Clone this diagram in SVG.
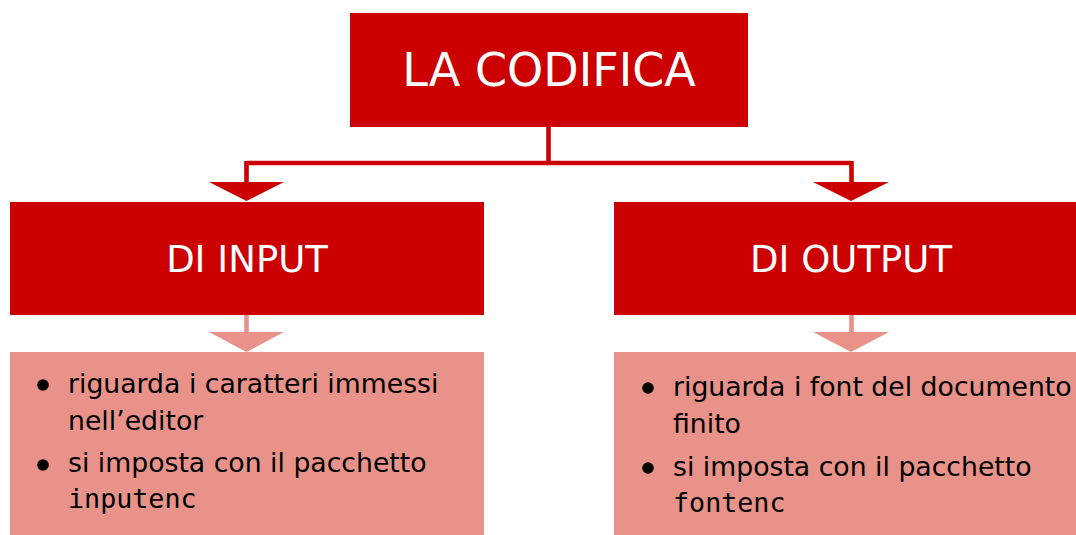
<svg xmlns="http://www.w3.org/2000/svg" width="1076" height="535" viewBox="0 0 1076 535">
<style>
.dark{fill:#cc0000}
.light{fill:#e9928a}
.head{font-family:"DejaVu Sans",sans-serif;fill:#ffffff;text-anchor:middle}
.body{font-family:"DejaVu Sans",sans-serif;font-size:26.7px;fill:#000000}
.mono{font-family:"DejaVu Sans Mono",monospace;font-size:26.7px;fill:#000000}
.ln{stroke:#cc0000;stroke-width:4.6;fill:none}
.lnl{stroke:#e9928a;stroke-width:4.6;fill:none}
</style>
<rect width="1076" height="535" fill="#ffffff"/>
<g id="connectors">
  <path class="ln" d="M548.5,127 V163 M246.5,163 H851.5 M246.5,161 V183 M851.5,161 V183"/>
  <polygon class="dark" points="209,182 284,182 246.5,201"/>
  <polygon class="dark" points="813,182 889,182 851,201"/>
  <path class="lnl" d="M246.5,315 V333 M851.5,315 V333"/>
  <polygon class="light" points="209,332 284,332 246.5,352"/>
  <polygon class="light" points="813,332 889,332 851,352"/>
</g>
<g id="node-codifica">
  <rect class="dark" x="350" y="13" width="398" height="114"/>
  <text class="head" x="549" y="86" font-size="46">LA CODIFICA</text>
</g>
<g id="node-input">
  <rect class="dark" x="10" y="202" width="474" height="113"/>
  <text class="head" x="247" y="272" font-size="37">DI INPUT</text>
</g>
<g id="node-output">
  <rect class="dark" x="614" y="202" width="462" height="113"/>
  <text class="head" x="851" y="272" font-size="37">DI OUTPUT</text>
</g>
<g id="node-input-details">
  <rect class="light" x="10" y="352" width="474" height="183"/>
  <circle cx="43" cy="385" r="5.8" fill="#000"/>
  <text class="body" x="68" y="393">riguarda i caratteri immessi</text>
  <text class="body" x="68" y="430">nell’editor</text>
  <circle cx="43" cy="465" r="5.8" fill="#000"/>
  <text class="body" x="68" y="472">si imposta con il pacchetto</text>
  <text class="mono" x="68" y="508">inputenc</text>
</g>
<g id="node-output-details">
  <rect class="light" x="614" y="352" width="462" height="183"/>
  <circle cx="648" cy="388" r="5.8" fill="#000"/>
  <text class="body" x="673" y="396">riguarda i font del documento</text>
  <text class="body" x="673" y="433">finito</text>
  <circle cx="648" cy="468" r="5.8" fill="#000"/>
  <text class="body" x="673" y="476">si imposta con il pacchetto</text>
  <text class="mono" x="673" y="512">fontenc</text>
</g>
</svg>
